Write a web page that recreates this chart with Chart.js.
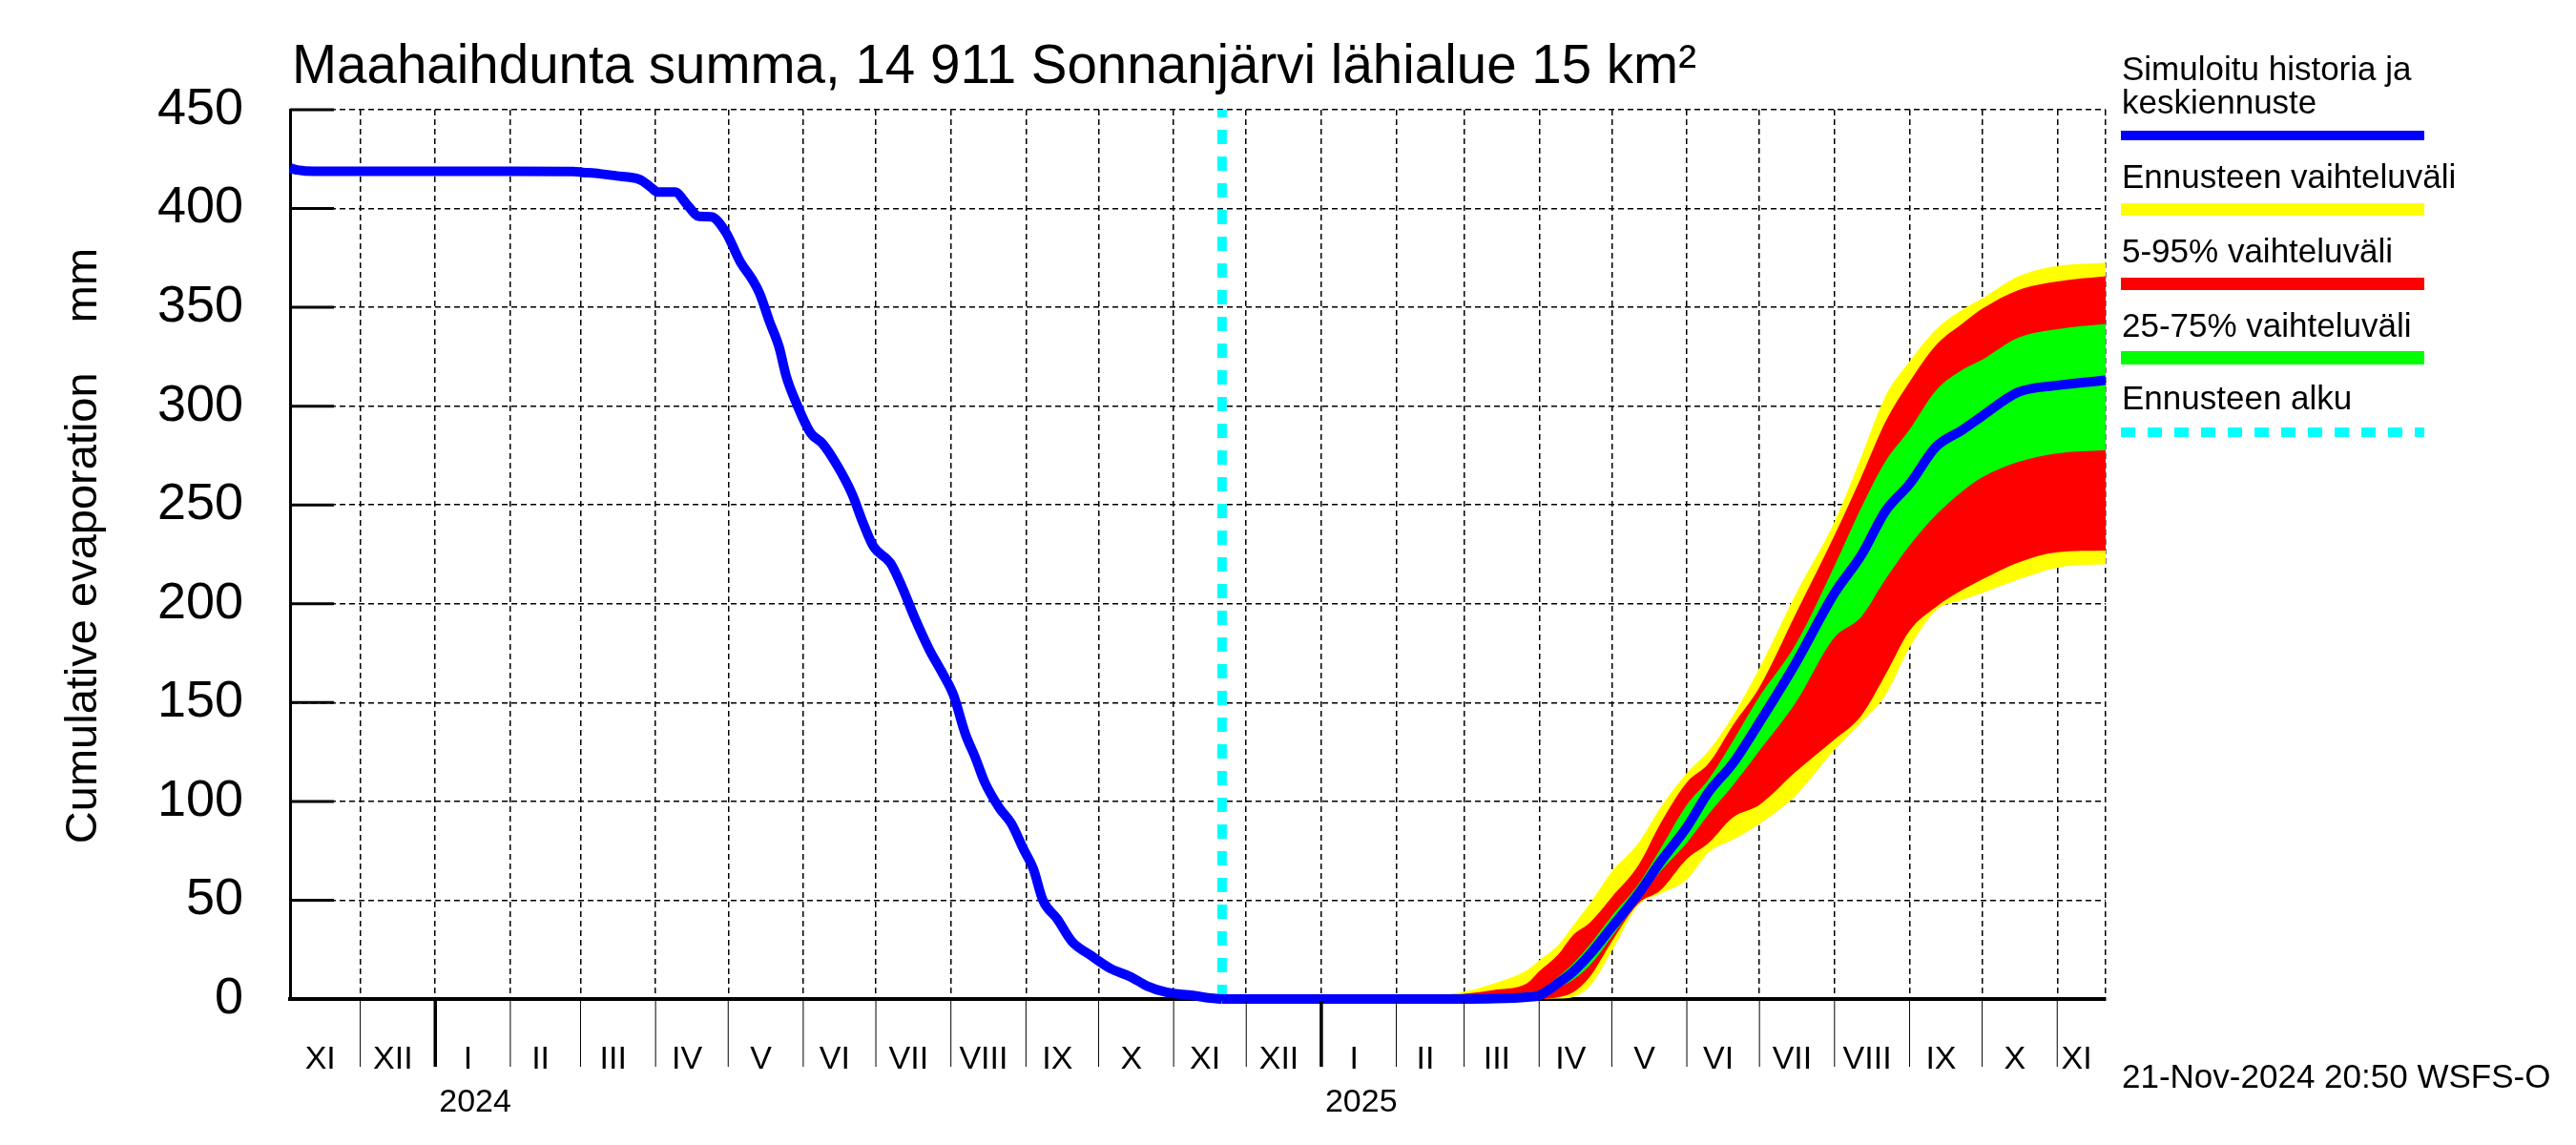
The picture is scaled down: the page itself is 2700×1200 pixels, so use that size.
<!DOCTYPE html>
<html>
<head>
<meta charset="utf-8">
<script src="https://cdn.jsdelivr.net/npm/chart.js@4/dist/chart.umd.min.js"></script>
<style>
html,body{margin:0;padding:0;background:#ffffff;}
#wrap{width:2700px;height:1200px;position:relative;}
</style>
</head>
<body>
<div id="wrap"><canvas id="c" width="2700" height="1200"></canvas></div>
<script>
// ---------- texts ----------
const FONT = '"Liberation Sans", Arial, Helvetica, sans-serif';
const titleText = 'Maahaihdunta summa, 14 911 Sonnanjärvi lähialue 15 km²';
const yAxisTitle = 'Cumulative evaporation    mm';
const footerText = '21-Nov-2024 20:50 WSFS-O';
const monthNames = ['I','II','III','IV','V','VI','VII','VIII','IX','X','XI','XII'];
const legendLabels = [
  ['Simuloitu historia ja', 'keskiennuste'],
  ['Ennusteen vaihteluväli'],
  ['5-95% vaihteluväli'],
  ['25-75% vaihteluväli'],
  ['Ennusteen alku']
];

// ---------- axes (x = days relative to 2024-01-01) ----------
const xMin = -60;          // 2023-11-02
const xMax = 690;          // 2025-11-21
const forecastStart = 325; // 2024-11-21
const yTicks = [0, 50, 100, 150, 200, 250, 300, 350, 400, 450];

// ---------- simulated history ----------
const histDays = [-60,-57,-50,0,30,57,61,68,75,81,84,86,89,92,99,104,109,114,120,126,131,134,138,142,145,149,155,160,166,172,177,181,188,193,198,204,209,214,219,223,227,233,238,243,247,251,257,263,271,279,287,294,302,313,320,325];
const histValues = [420.5,419.5,418.8,418.8,418.8,418.7,418.3,417.6,416.5,415.7,414.9,413.6,410.8,408.3,408.3,402,396,395.8,388,373,364,357,343,330,315,302,286.5,281,270,256,240,229,220.6,208,193,177,166,154,134,122.4,109.6,96.7,88.7,75.8,66,50,40.4,29.1,21.9,15.4,11.4,6.6,3.4,1.8,0.5,0];

// ---------- forecast ----------
const fcDays   = [325,400,425,438,451,456,464,470,477,486,497,506,517,526,536,547,562,578,589,599,609,620,631,639,654,670,690];
const fcMax    = [0,0.5,3.7,8.2,14.6,19.5,27.5,37.2,48.4,64.5,79,96.7,114.4,125.6,143.3,167.5,205,241.6,274.3,305,322.6,339,349,354.5,365.7,370.9,372.6];
const fcP95    = [0,0.3,2.6,4.7,8,14,22.7,32.3,38.8,51.6,67.7,88.6,109.6,119.2,138.5,157.8,195,234.7,264,292,312.3,331,342,349.3,358.8,363.1,365.7];
const fcP75    = [0,0,0.5,1.8,3.4,4.2,11.4,17.9,27.5,42,58.1,75.8,98.3,111.2,130.5,153,179.5,219.2,248.5,272,288.1,308,318.5,323.5,334.7,339,341.6];
const fcMedian = [0,0,0,0.2,1,1.8,8.2,13.8,22.7,36.4,53.2,69.3,87,104.7,119.2,140,170,205.4,224.4,246.8,260.6,279.5,288.1,295,307.1,310.5,313.1];
const fcP25    = [0,0,0,0,0,0.5,5.8,9.8,17.1,31.5,50,64.5,79,93.5,108,125.6,150,183,193.3,212.3,229.5,245,257.1,264,271.8,276.1,277.8];
const fcP05    = [0,0,0,0,0,0,1,3.4,11.4,29.1,48.4,54.9,70.9,79,91.9,98.3,115,131.3,143.3,164,186.4,198.5,207.1,212.3,220.9,226.1,226.9];
const fcMin    = [0,0,0,0,0,0,0.2,1,6.6,24.3,47.6,53.2,60.5,74.2,80.6,88.6,103,126.1,139.9,153.7,177.8,196.8,201.9,205.4,212.3,218.3,220];

// ---------- colours ----------
const C_BLUE = '#0000ff', C_YELLOW = '#ffff00', C_RED = '#ff0000', C_GREEN = '#00ff00', C_CYAN = '#00ffff';

// ---------- helpers ----------
const DAY = 86400000;
const EPOCH = Date.UTC(2024, 0, 1);
const dayOf = (y, m) => (Date.UTC(y, m, 1) - EPOCH) / DAY;
const months = [];
for (let y = 2023, m = 10; y < 2025 || (y === 2025 && m <= 10); ) {
  const s = dayOf(y, m);
  const ny = m === 11 ? y + 1 : y, nm = (m + 1) % 12;
  months.push({ start: s, end: dayOf(ny, nm), name: monthNames[m], isYear: m === 0, year: y });
  y = ny; m = nm;
}
const gridDays = months.map(o => o.start).filter(d => d > xMin && d < xMax).concat([xMax]);
const pts = (xs, ys) => xs.map((x, i) => ({ x: x, y: ys[i] }));

const band = (data, color, target) => ({
  data: data, borderColor: 'rgba(0,0,0,0)', borderWidth: 0, backgroundColor: color,
  fill: target === null ? false : target, pointRadius: 0, cubicInterpolationMode: 'monotone'
});

const datasets = [
  { data: pts(histDays, histValues), borderColor: C_BLUE, borderWidth: 10, pointRadius: 0, fill: false, clip: false, borderJoinStyle: 'round', cubicInterpolationMode: 'monotone' },
  { data: pts(fcDays, fcMedian), borderColor: C_BLUE, borderWidth: 10, pointRadius: 0, fill: false, clip: false, borderJoinStyle: 'round', cubicInterpolationMode: 'monotone' },
  { data: [{ x: forecastStart, y: 0 }, { x: forecastStart, y: 450 }], borderColor: C_CYAN, borderWidth: 10, borderDash: [15, 13], pointRadius: 0, fill: false, clip: false, tension: 0 },
  band(pts(fcDays, fcP75), C_GREEN, 4),
  band(pts(fcDays, fcP25), C_GREEN, null),
  band(pts(fcDays, fcP95), C_RED, 6),
  band(pts(fcDays, fcP05), C_RED, null),
  band(pts(fcDays, fcMax), C_YELLOW, 8),
  band(pts(fcDays, fcMin), C_YELLOW, null)
];

const decor = {
  id: 'decor',
  beforeDatasetsDraw(chart) {
    const { ctx, scales: { y }, chartArea: a } = chart;
    ctx.save();
    ctx.strokeStyle = '#000'; ctx.lineWidth = 3;
    yTicks.forEach(v => {
      const py = y.getPixelForValue(v);
      ctx.beginPath(); ctx.moveTo(a.left, py); ctx.lineTo(a.left + 46, py); ctx.stroke();
    });
    ctx.restore();
  },
  afterDraw(chart) {
    const { ctx, scales: { x }, chartArea: a } = chart;
    ctx.save();
    // separators below the axis
    ctx.strokeStyle = '#000';
    months.forEach(o => {
      if (o.start <= xMin || o.start >= xMax) return;
      const px = x.getPixelForValue(o.start);
      ctx.lineWidth = o.isYear ? 3.5 : 1;
      ctx.beginPath(); ctx.moveTo(px, a.bottom + 2); ctx.lineTo(px, a.bottom + 71); ctx.stroke();
    });
    // month labels
    ctx.fillStyle = '#000';
    ctx.font = '34px ' + FONT;
    ctx.textAlign = 'center'; ctx.textBaseline = 'alphabetic';
    months.forEach(o => {
      const s = Math.max(o.start, xMin), e = Math.min(o.end, xMax);
      if (e <= s) return;
      const c = (s + e) / 2 - 2;
      ctx.fillText(o.name, x.getPixelForValue(c), a.bottom + 73);
    });
    // year labels
    ctx.textAlign = 'left';
    months.forEach(o => {
      if (!o.isYear) return;
      ctx.fillText(String(o.year), x.getPixelForValue(o.start) + 4, a.bottom + 118);
    });
    // title
    ctx.font = '56.5px ' + FONT;
    ctx.fillText(titleText, 306, 87);
    // footer
    ctx.font = '35px ' + FONT;
    ctx.fillText(footerText, 2224, 1140);
    // y axis title
    ctx.save();
    ctx.translate(101, 572);
    ctx.rotate(-Math.PI / 2);
    ctx.textAlign = 'center';
    ctx.font = '47px ' + FONT;
    ctx.fillText(yAxisTitle, 0, 0);
    ctx.restore();
    // legend
    ctx.font = '35px ' + FONT;
    ctx.textAlign = 'left';
    const lx0 = 2223, lx1 = 2541;
    const textBase = [[84, 119], [197], [275], [353], [429]];
    const swatch = [
      { y: 142, w: 10, c: C_BLUE, dash: [] },
      { y: 219.5, w: 13, c: C_YELLOW, dash: [] },
      { y: 297.5, w: 13, c: C_RED, dash: [] },
      { y: 375, w: 14, c: C_GREEN, dash: [] },
      { y: 453, w: 10, c: C_CYAN, dash: [15, 13] }
    ];
    legendLabels.forEach((lines, i) => {
      ctx.fillStyle = '#000';
      lines.forEach((t, j) => ctx.fillText(t, 2224, textBase[i][j]));
      const s = swatch[i];
      ctx.strokeStyle = s.c; ctx.lineWidth = s.w; ctx.setLineDash(s.dash);
      ctx.beginPath(); ctx.moveTo(lx0, s.y); ctx.lineTo(lx1, s.y); ctx.stroke();
      ctx.setLineDash([]);
    });
    ctx.restore();
  }
};

new Chart(document.getElementById('c').getContext('2d'), {
  type: 'line',
  data: { datasets: datasets },
  options: {
    responsive: false,
    animation: false,
    devicePixelRatio: 1,
    layout: { padding: { left: 0, right: 493, top: 115, bottom: 0 } },
    plugins: { legend: { display: false }, tooltip: { enabled: false }, title: { display: false } },
    elements: { point: { radius: 0 } },
    scales: {
      x: {
        type: 'linear', min: xMin, max: xMax,
        afterBuildTicks: s => { s.ticks = gridDays.map(v => ({ value: v })); },
        ticks: { display: false },
        grid: { color: '#000', lineWidth: 1.5, drawTicks: false },
        border: { display: true, color: '#000', width: 4, dash: [6, 4] },
        afterFit: s => { s.height = 153; }
      },
      y: {
        type: 'linear', min: 0, max: 450,
        afterBuildTicks: s => { s.ticks = yTicks.map(v => ({ value: v })); },
        ticks: { color: '#000', font: { family: FONT, size: 54 }, padding: 49 },
        grid: { color: '#000', lineWidth: 1.5, drawTicks: false },
        border: { display: true, color: '#000', width: 3, dash: [6, 4] },
        afterFit: s => { s.width = 304; }
      }
    }
  },
  plugins: [decor]
});
</script>
</body>
</html>
